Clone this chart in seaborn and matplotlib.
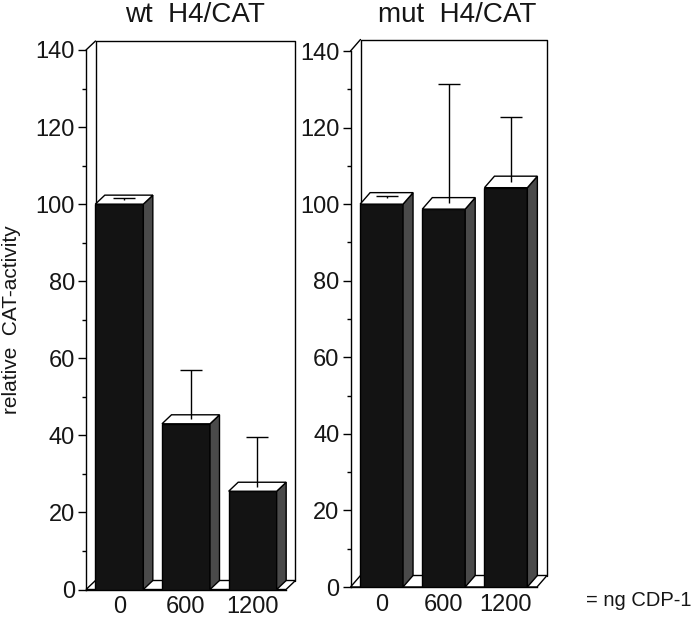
import numpy as np
import pandas as pd
import matplotlib
matplotlib.use('Agg')
import matplotlib.pyplot as plt
from matplotlib.patches import Polygon
from matplotlib.ticker import MultipleLocator
import seaborn as sns

# data
doses = ['0', '600', '1200']
wt_activity = [100, 43, 25.5]
wt_err = [0.5, 12.7, 12.8]
mut_activity = [100, 98.7, 104.3]
mut_err = [0.5, 31.3, 17.0]
titles = ['wt  H4/CAT', 'mut  H4/CAT']
y_ticks = [0, 20, 40, 60, 80, 100, 120, 140]

sns.set_theme(style='ticks')
plt.rcParams['font.family'] = ['Liberation Sans', 'DejaVu Sans']

W, H = 698, 617
fig = plt.figure(figsize=(W / 100, H / 100), dpi=100)

# panel boxes in pixels: x left, x right, y bottom, y top (from top of image)
panels = [
    dict(box=(86, 286, 589.5, 50), depth=(9.5, 9.0), bw=0.72, title_x=195),
    dict(box=(350.5, 537, 587, 51), depth=(10.0, 11.5), bw=0.69, title_x=457),
]
series = [(wt_activity, wt_err), (mut_activity, mut_err)]

FRONT = '#131313'
SIDE = '#4a4a4a'
TXT = '#161616'


def draw_panel(ax, vals, errs, bw, depth_px, title, title_x):
    df = pd.DataFrame({'dose': doses, 'activity': vals})
    sns.barplot(data=df, x='dose', y='activity', color=FRONT, saturation=1,
                width=bw, edgecolor='black', linewidth=1, errorbar=None,
                ax=ax, zorder=3)
    bars = list(ax.patches)
    ax.set_xlim(-0.5, len(doses) - 0.5)
    ax.set_ylim(0, 140)
    x0, x1 = ax.get_xlim()
    ytop = ax.get_ylim()[1]

    # depth of the 3d box, converted from pixels to data units
    bb = ax.get_window_extent()
    px_x = bb.width / (x1 - x0)
    ddx = depth_px[0] / px_x
    ddy = depth_px[1] * ytop / bb.height

    # floor and back wall
    floor = Polygon([(x0, 0), (x1, 0), (x1 + ddx, ddy), (x0 + ddx, ddy)],
                    closed=True, facecolor='white', edgecolor='black',
                    lw=1, zorder=1, clip_on=False)
    ax.add_patch(floor)
    ax.plot([x0 + ddx, x0 + ddx, x1 + ddx, x1 + ddx],
            [ddy, ytop + ddy, ytop + ddy, ddy],
            color='black', lw=1, zorder=1, clip_on=False)
    ax.plot([x0, x0 + ddx], [ytop, ytop + ddy], color='black', lw=1,
            zorder=1, clip_on=False)

    # side and top faces of each bar
    for p in bars:
        bx, w, h = p.get_x(), p.get_width(), p.get_height()
        side = Polygon([(bx + w, 0), (bx + w, h), (bx + w + ddx, h + ddy),
                        (bx + w + ddx, ddy)], closed=True, facecolor=SIDE,
                       edgecolor='black', lw=1, zorder=3, clip_on=False)
        top = Polygon([(bx, h), (bx + w, h), (bx + w + ddx, h + ddy),
                       (bx + ddx, h + ddy)], closed=True, facecolor='white',
                      edgecolor='black', lw=1, zorder=4, clip_on=False)
        ax.add_patch(side)
        ax.add_patch(top)

    # upper error bars rise from the middle of the top face
    xpos = np.arange(len(doses)) + ddx / 2
    base = np.array(vals) + ddy / 2
    tip = base + np.array(errs)
    cap = 11 / px_x
    ax.vlines(xpos, base, tip, color='black', lw=1, zorder=5, clip_on=False)
    ax.hlines(tip, xpos - cap, xpos + cap, color='black', lw=1, zorder=5,
              clip_on=False)

    sns.despine(ax=ax)
    for s in ('left', 'bottom'):
        ax.spines[s].set_color('black')
        ax.spines[s].set_linewidth(1)
    ax.set_yticks(y_ticks)
    ax.yaxis.set_minor_locator(MultipleLocator(10))
    ax.tick_params(axis='y', which='major', direction='out', length=6,
                   width=1, color='black', labelsize=17, pad=2,
                   labelcolor=TXT)
    ax.tick_params(axis='y', which='minor', direction='out', length=3,
                   width=1, color='black', left=True)
    ax.tick_params(axis='x', length=0, labelsize=17, pad=5,
                   labelcolor=TXT)
    ax.set_xlabel('')
    ax.set_ylabel('')
    ax.set_facecolor('none')

    fig.text(title_x / W, 1 - 22 / H, title, ha='center', va='baseline',
             fontsize=20, color=TXT)


for (vals, errs), pn, title in zip(series, panels, titles):
    xl, xr, yb, yt = pn['box']
    ax = fig.add_axes([xl / W, (H - yb) / H, (xr - xl) / W, (yb - yt) / H])
    draw_panel(ax, vals, errs, pn['bw'], pn['depth'], title, pn['title_x'])

fig.text(12 / W, 1 - 320 / H, 'relative  CAT-activity', rotation=90,
         ha='center', va='center', fontsize=15, color=TXT)
fig.text(586 / W, 1 - 600 / H, '= ng CDP-1', ha='left', va='center',
         fontsize=14.5, color=TXT)

fig.savefig('out.png', dpi=100, facecolor='white')
